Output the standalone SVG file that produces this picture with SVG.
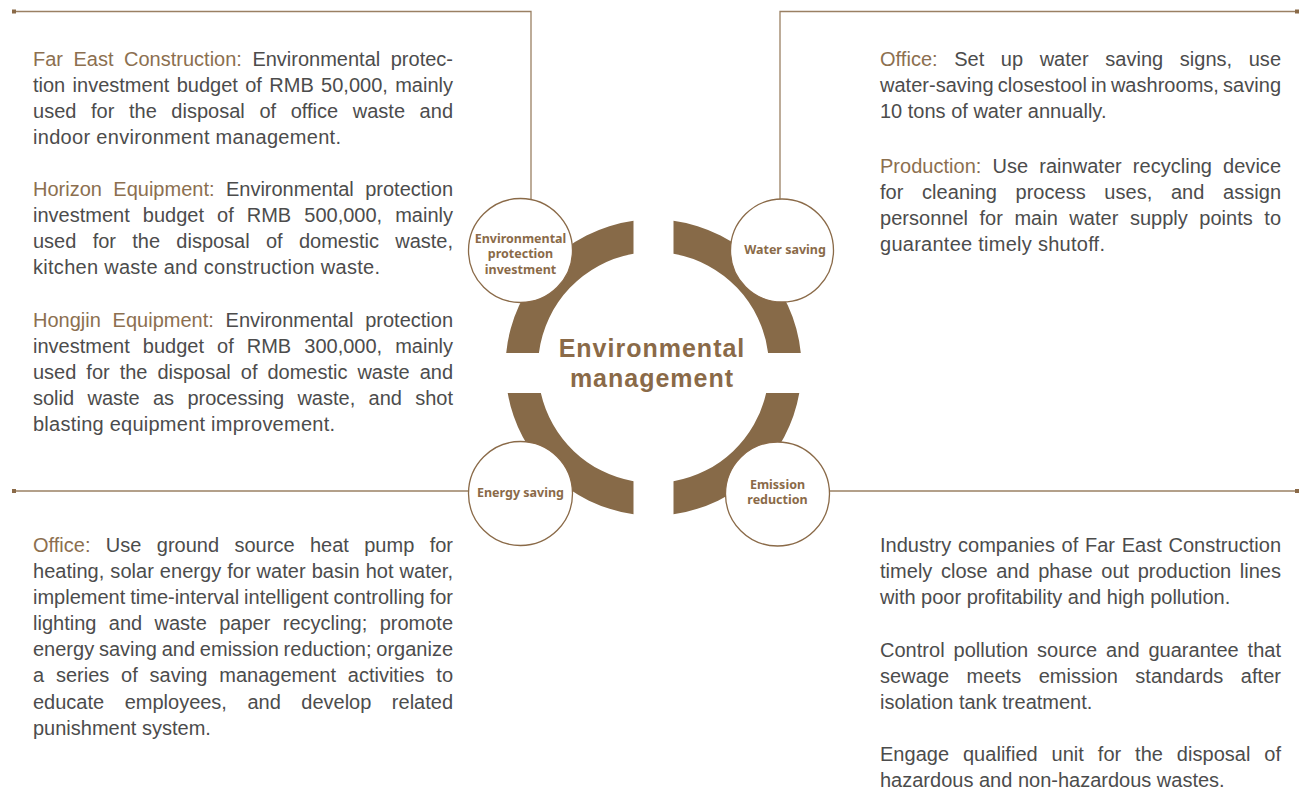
<svg xmlns="http://www.w3.org/2000/svg" width="1300" height="791" viewBox="0 0 1300 791">
<style>
.b{font-family:"Liberation Sans",Arial,sans-serif;font-size:20px;fill:#4c4c4c}
.lb{fill:#8c6f4f}
.n{font-family:"Noto Sans",sans-serif;font-weight:700;font-size:12.5px;fill:#8a6a48;text-anchor:middle}
.t{font-family:"Liberation Sans",Arial,sans-serif;font-weight:700;font-size:25px;fill:#8a6a48;text-anchor:middle;letter-spacing:1px}
.c{fill:#fff;stroke:#8a6a48;stroke-width:1.3}
.ln{fill:none;stroke:#9a8063;stroke-width:1.3}
.sq{fill:#8a6a48}
.ring{fill:#876a48}
</style>
<rect width="1300" height="791" fill="#fff"/>
<g id="connectors">
<polyline class="ln" points="16,11.5 531,11.5 531,199.5"/>
<polyline class="ln" points="1296,11.5 780,11.5 780,199"/>
<line class="ln" x1="16" y1="491" x2="468.5" y2="491"/>
<line class="ln" x1="829.5" y1="491" x2="1296" y2="491"/>
<rect class="sq" x="12" y="9.5" width="4" height="4"/>
<rect class="sq" x="1295" y="9.5" width="4" height="4"/>
<rect class="sq" x="12" y="489" width="4" height="4"/>
<rect class="sq" x="1295" y="489" width="4" height="4"/>
</g>
<g id="center">
<path class="ring" d="M506.2 353 A148 148 0 0 1 633.5 220.86 L633.5 253.74 A115.5 115.5 0 0 0 538.9 353 Z"/>
<path class="ring" d="M800.8 353 A148 148 0 0 0 673.5 220.86 L673.5 253.74 A115.5 115.5 0 0 1 768.1 353 Z"/>
<path class="ring" d="M507.7 393 A148 148 0 0 0 633.5 514.14 L633.5 481.26 A115.5 115.5 0 0 1 540.85 393 Z"/>
<path class="ring" d="M799.3 393 A148 148 0 0 1 673.5 514.14 L673.5 481.26 A115.5 115.5 0 0 0 766.15 393 Z"/>
<text class="t" x="652" y="357">Environmental</text>
<text class="t" x="652" y="387">management</text>
</g>
<g id="node-investment">
<circle class="c" cx="520.5" cy="250.5" r="52"/>
<text class="n" x="520.5" y="242.5">Environmental</text>
<text class="n" x="520.5" y="258">protection</text>
<text class="n" x="520.5" y="273.5">investment</text>
</g>
<g id="node-water">
<circle class="c" cx="782" cy="250.5" r="51.5"/>
<text class="n" x="785" y="253.5">Water saving</text>
</g>
<g id="node-energy">
<circle class="c" cx="520.5" cy="493.5" r="52"/>
<text class="n" x="520.5" y="496.5">Energy saving</text>
</g>
<g id="node-emission">
<circle class="c" cx="777.5" cy="494" r="52"/>
<text class="n" x="777.5" y="488.5">Emission</text>
<text class="n" x="777.5" y="503.5">reduction</text>
</g>
<g id="text-investment">
<text class="b" x="33" y="66" word-spacing="4.97" textLength="420" lengthAdjust="spacing"><tspan class="lb">Far East Construction:</tspan> Environmental protec-</text>
<text class="b" x="33" y="92" word-spacing="1.82" textLength="420" lengthAdjust="spacing">tion investment budget of RMB 50,000, mainly</text>
<text class="b" x="33" y="118" word-spacing="9.02" textLength="420" lengthAdjust="spacing">used for the disposal of office waste and</text>
<text class="b" x="33" y="144" textLength="308" lengthAdjust="spacing">indoor environment management.</text>
<text class="b" x="33" y="196" word-spacing="5.87" textLength="420" lengthAdjust="spacing"><tspan class="lb">Horizon Equipment:</tspan> Environmental protection</text>
<text class="b" x="33" y="222" word-spacing="7.52" textLength="420" lengthAdjust="spacing">investment budget of RMB 500,000, mainly</text>
<text class="b" x="33" y="248" word-spacing="10.71" textLength="420" lengthAdjust="spacing">used for the disposal of domestic waste,</text>
<text class="b" x="33" y="274" textLength="347" lengthAdjust="spacing">kitchen waste and construction waste.</text>
<text class="b" x="33" y="327" word-spacing="6.24" textLength="420" lengthAdjust="spacing"><tspan class="lb">Hongjin Equipment:</tspan> Environmental protection</text>
<text class="b" x="33" y="353" word-spacing="7.52" textLength="420" lengthAdjust="spacing">investment budget of RMB 300,000, mainly</text>
<text class="b" x="33" y="379" word-spacing="4.42" textLength="420" lengthAdjust="spacing">used for the disposal of domestic waste and</text>
<text class="b" x="33" y="405" word-spacing="7.75" textLength="420" lengthAdjust="spacing">solid waste as processing waste, and shot</text>
<text class="b" x="33" y="431" textLength="302" lengthAdjust="spacing">blasting equipment improvement.</text>
</g>
<g id="text-energy">
<text class="b" x="33" y="552" word-spacing="9.79" textLength="420" lengthAdjust="spacing"><tspan class="lb">Office:</tspan> Use ground source heat pump for</text>
<text class="b" x="33" y="578" word-spacing="0.45" textLength="420" lengthAdjust="spacing">heating, solar energy for water basin hot water,</text>
<text class="b" x="33" y="604" word-spacing="-0.58" textLength="420" lengthAdjust="spacing">implement time-interval intelligent controlling for</text>
<text class="b" x="33" y="630" word-spacing="6.86" textLength="420" lengthAdjust="spacing">lighting and waste paper recycling; promote</text>
<text class="b" x="33" y="656" word-spacing="-0.7" textLength="420" lengthAdjust="spacing">energy saving and emission reduction; organize</text>
<text class="b" x="33" y="682" word-spacing="6.27" textLength="420" lengthAdjust="spacing">a series of saving management activities to</text>
<text class="b" x="33" y="709" word-spacing="14.95" textLength="420" lengthAdjust="spacing">educate employees, and develop related</text>
<text class="b" x="33" y="735">punishment system.</text>
</g>
<g id="text-water">
<text class="b" x="880" y="66" word-spacing="10.9" textLength="401" lengthAdjust="spacing"><tspan class="lb">Office:</tspan> Set up water saving signs, use</text>
<text class="b" x="880" y="92" word-spacing="-1.4" textLength="401" lengthAdjust="spacing">water-saving closestool in washrooms, saving</text>
<text class="b" x="880" y="118">10 tons of water annually.</text>
<text class="b" x="880" y="173" word-spacing="5.5" textLength="401" lengthAdjust="spacing"><tspan class="lb">Production:</tspan> Use rainwater recycling device</text>
<text class="b" x="880" y="199" word-spacing="13.08" textLength="401" lengthAdjust="spacing">for cleaning process uses, and assign</text>
<text class="b" x="880" y="225" word-spacing="5.9" textLength="401" lengthAdjust="spacing">personnel for main water supply points to</text>
<text class="b" x="880" y="251" textLength="225" lengthAdjust="spacing">guarantee timely shutoff.</text>
</g>
<g id="text-emission">
<text class="b" x="880" y="552" word-spacing="1.08" textLength="401" lengthAdjust="spacing">Industry companies of Far East Construction</text>
<text class="b" x="880" y="578" word-spacing="2.93" textLength="401" lengthAdjust="spacing">timely close and phase out production lines</text>
<text class="b" x="880" y="604">with poor profitability and high pollution.</text>
<text class="b" x="880" y="657" word-spacing="3.29" textLength="401" lengthAdjust="spacing">Control pollution source and guarantee that</text>
<text class="b" x="880" y="683" word-spacing="11.91" textLength="401" lengthAdjust="spacing">sewage meets emission standards after</text>
<text class="b" x="880" y="709">isolation tank treatment.</text>
<text class="b" x="880" y="761" word-spacing="8.3" textLength="401" lengthAdjust="spacing">Engage qualified unit for the disposal of</text>
<text class="b" x="880" y="787">hazardous and non-hazardous wastes.</text>
</g>
</svg>
